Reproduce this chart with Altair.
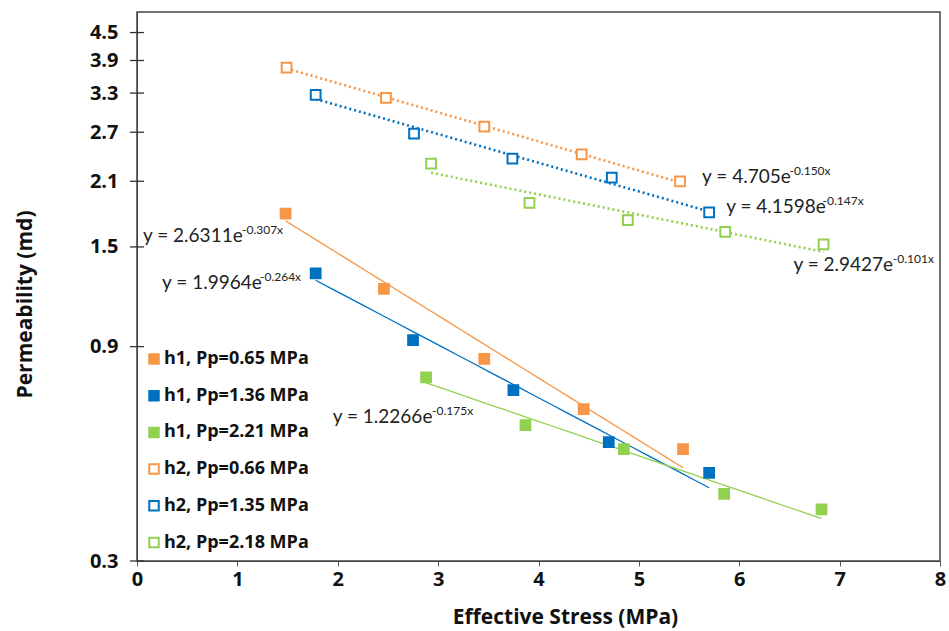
import altair as alt
import pandas as pd

# ---- data ----
series_names = ["h1, Pp=0.65 MPa", "h1, Pp=1.36 MPa", "h1, Pp=2.21 MPa",
                "h2, Pp=0.66 MPa", "h2, Pp=1.35 MPa", "h2, Pp=2.18 MPa"]

h1_065_x = [1.48, 2.46, 3.46, 4.45, 5.44]
h1_065_y = [1.78, 1.21, 0.845, 0.653, 0.532]
h1_136_x = [1.78, 2.75, 3.75, 4.70, 5.70]
h1_136_y = [1.31, 0.93, 0.72, 0.552, 0.471]
h1_221_x = [2.88, 3.87, 4.85, 5.85, 6.82]
h1_221_y = [0.769, 0.602, 0.532, 0.423, 0.391]
h2_066_x = [1.49, 2.48, 3.46, 4.43, 5.41]
h2_066_y = [3.76, 3.22, 2.78, 2.41, 2.10]
h2_135_x = [1.78, 2.76, 3.74, 4.73, 5.70]
h2_135_y = [3.27, 2.68, 2.36, 2.14, 1.79]
h2_218_x = [2.93, 3.91, 4.89, 5.86, 6.84]
h2_218_y = [2.30, 1.88, 1.72, 1.62, 1.52]

y_ticks = [0.3, 0.9, 1.5, 2.1, 2.7, 3.3, 3.9, 4.5]
x_ticks = [0, 1, 2, 3, 4, 5, 6, 7, 8]

eq_main = ["y = 2.6311e", "y = 1.9964e", "y = 1.2266e",
           "y = 4.705e", "y = 4.1598e", "y = 2.9427e"]
eq_sup = ["-0.307x", "-0.264x", "-0.175x", "-0.150x", "-0.147x", "-0.101x"]
eq_x = [0.06, 0.25, 1.95, 5.63, 5.87, 6.54]
eq_sup_x = [1.046, 1.225, 2.94, 6.50, 6.83, 7.53]
eq_y = [1.59, 1.245, 0.627, 2.15, 1.84, 1.37]

colors_stroke = ["#F79646", "#0070C0", "#92D050", "#F79646", "#0070C0", "#92D050"]
colors_fill = ["#F79646", "#0070C0", "#92D050", "#FFFFFF", "#FFFFFF", "#FFFFFF"]

# ---- build table ----
xs = [h1_065_x, h1_136_x, h1_221_x, h2_066_x, h2_135_x, h2_218_x]
ys = [h1_065_y, h1_136_y, h1_221_y, h2_066_y, h2_135_y, h2_218_y]
rows = []
for name, sx, sy in zip(series_names, xs, ys):
    for a, b in zip(sx, sy):
        rows.append({"series": name, "x": a, "y": b, "group": name[:2]})
df = pd.DataFrame(rows)

eq_df = pd.DataFrame({"main": eq_main, "sup": eq_sup, "x": eq_x,
                      "xs": eq_sup_x, "y": eq_y})
tick_df = pd.DataFrame({"v": y_ticks})

FONT = "Open Sans"
xscale = alt.Scale(domain=[0, 8], nice=False)
yscale = alt.Scale(type="log", domain=[0.3, 5.0], nice=False)
stroke_scale = alt.Scale(domain=series_names, range=colors_stroke)
fill_scale = alt.Scale(domain=series_names, range=colors_fill)

base = alt.Chart(df)

xaxis = alt.Axis(values=x_ticks, format="d", title="Effective Stress (MPa)",
                 labelFont=FONT, labelFontWeight="bold", labelFontSize=20,
                 labelColor="#111", labelPadding=3, labelFlush=False,
                 tickSize=5, tickColor="#555",
                 domainColor="#444", grid=False, titleFont=FONT,
                 titleFontWeight="bold", titleFontSize=21, titleColor="#111",
                 titleX=428, titleY=56, titleBaseline="middle")
yaxis = alt.Axis(values=y_ticks, format=".1f", title="Permeability (md)",
                 labelFont=FONT, labelFontWeight="bold", labelFontSize=20,
                 labelColor="#111", labelPadding=19, labelFlush=False,
                 ticks=False, tickSize=0,
                 domainColor="#444", grid=False, titleFont=FONT,
                 titleFontWeight="bold", titleFontSize=21, titleColor="#111",
                 titleX=-112, titleY=292, titleAlign="center",
                 titleBaseline="middle", titleAngle=-90)

X = lambda f: alt.X(f, scale=xscale, axis=xaxis)
Y = lambda f: alt.Y(f, scale=yscale, axis=yaxis)

line_h1 = base.transform_filter(alt.datum.group == "h1").transform_regression(
    "x", "y", method="exp", groupby=["series"]
).mark_line(strokeWidth=1.3).encode(
    x=X("x:Q"), y=Y("y:Q"),
    stroke=alt.Stroke("series:N", scale=stroke_scale, legend=None),
)

line_h2 = base.transform_filter(alt.datum.group == "h2").transform_regression(
    "x", "y", method="exp", groupby=["series"]
).mark_line(strokeWidth=2.6, strokeDash=[2, 3]).encode(
    x=X("x:Q"), y=Y("y:Q"),
    stroke=alt.Stroke("series:N", scale=stroke_scale, legend=None),
)

legend = alt.Legend(title=None, orient="none", legendX=8, legendY=338,
                    labelFont=FONT, labelFontWeight="bold", labelFontSize=18,
                    labelColor="#111", symbolType="square", symbolSize=90,
                    symbolStrokeWidth=2, rowPadding=18.7, labelOffset=1,
                    padding=0)

points = base.mark_point(shape="square", size=95, strokeWidth=2, opacity=1).encode(
    x=X("x:Q"), y=Y("y:Q"),
    stroke=alt.Stroke("series:N", scale=stroke_scale, legend=legend),
    fill=alt.Fill("series:N", scale=fill_scale, legend=legend),
)

yticks = alt.Chart(tick_df).mark_rule(color="#333", strokeWidth=1.3).encode(
    x=alt.value(-7), x2=alt.value(7),
    y=Y("v:Q"),
)

eq_main_layer = alt.Chart(eq_df).mark_text(
    align="left", baseline="middle", font="Lato", fontSize=19, color="#222"
).encode(
    x=X("x:Q"), y=Y("y:Q"),
    text="main:N",
)
eq_sup_layer = alt.Chart(eq_df).mark_text(
    align="left", baseline="middle", font="Lato", fontSize=12, color="#222", dy=-6
).encode(
    x=X("xs:Q"), y=Y("y:Q"),
    text="sup:N",
)

chart = alt.layer(line_h1, line_h2, points, yticks, eq_main_layer, eq_sup_layer).resolve_legend(
    stroke="independent", fill="independent"
).properties(
    width=803, height=549,
    autosize=alt.AutoSizeParams(type="none"),
    padding={"left": 137, "top": 12, "right": 9, "bottom": 70},
    background="white",
).configure_view(stroke="#444", strokeWidth=1.5)

chart.save("out.html", embed_options={"renderer": "svg", "actions": False})
